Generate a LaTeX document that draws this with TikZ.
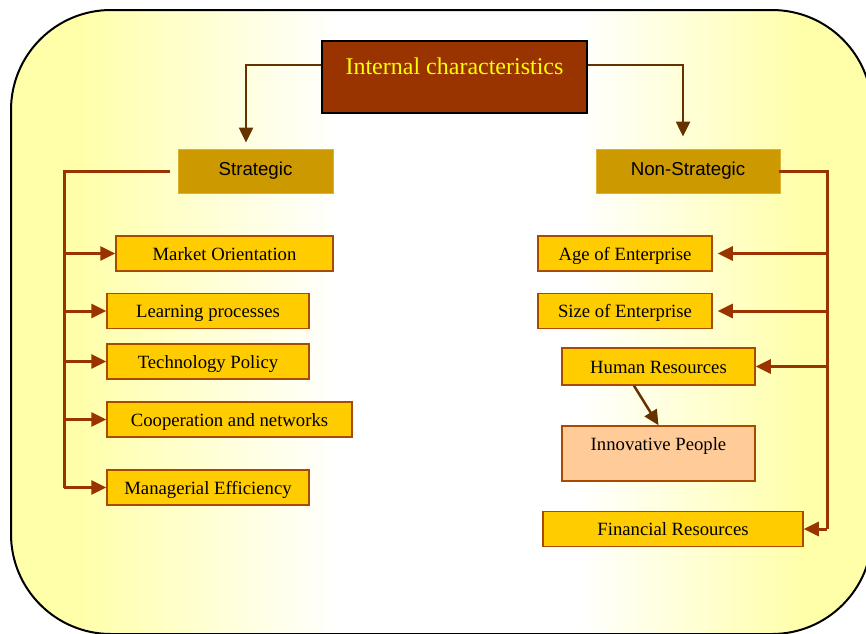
\documentclass[tikz,border=0pt]{standalone}
\usepackage{fontspec}
\setmainfont{Liberation Serif}
\newfontfamily\hdrfont{Liberation Sans}
\usepackage{tikz}
\usetikzlibrary{arrows.meta,positioning,calc}

\definecolor{rust}{HTML}{993300}
\definecolor{umber}{HTML}{663300}
\definecolor{gold}{HTML}{FFCC00}
\definecolor{ochre}{HTML}{CC9900}
\definecolor{ochreline}{HTML}{E0B030}
\definecolor{peach}{HTML}{FFCC99}
\definecolor{paleyel}{HTML}{FFFFAA}
\definecolor{txtyel}{HTML}{FFFF00}

% yellow at both sides, white in the middle
\pgfdeclarehorizontalshading{bgfade}{100bp}{color(0bp)=(paleyel); color(29bp)=(paleyel);
  color(44bp)=(white); color(58bp)=(white); color(71bp)=(paleyel); color(100bp)=(paleyel)}

\begin{document}
\begin{tikzpicture}[
  x=1pt, y=-1pt,
  font=\fontsize{18.7}{22}\selectfont,
  top/.style={draw=black, line width=2pt, fill=rust, text=txtyel, minimum width=265pt,
    inner ysep=0pt, text height=33pt, text depth=39pt, font=\fontsize{24}{28}\selectfont},
  hdr/.style={draw=ochreline, line width=1pt, fill=ochre, minimum height=44pt,
    text height=8pt, text depth=0pt, font=\hdrfont\fontsize{18.7}{22}\selectfont},
  item/.style={draw=rust!85!gold, line width=1.5pt, fill=gold, minimum height=35pt,
    inner ysep=0pt, text height=13pt, text depth=0pt},
  down/.style={-{Triangle[length=15pt,width=14pt]}, umber, line width=2.5pt},
  bus/.style={rust, line width=3pt},
  feed/.style={-{Triangle[length=15pt,width=14pt]}, rust, line width=3pt}
]
\useasboundingbox (0,0) rectangle (866,633);
\path[shading=bgfade, draw=black, line width=2pt, rounded corners=100pt] (11,10) rectangle (872,634);

\node[top] (intl) at (454.5,77) {Internal characteristics};
\node[hdr, minimum width=155pt] (strat) at (255.5,171) {Strategic};
\node[hdr, minimum width=184pt] (nonstrat) at (688,171) {Non-Strategic};

\node[item, minimum width=217pt] (market) at (224.5,253.5) {Market Orientation};
\node[item, minimum width=202pt] (learn) at (208,311) {Learning processes};
\node[item, minimum width=202pt] (tech) at (208,361.5) {Technology Policy};
\node[item, minimum width=245pt] (coop) at (229.5,419.5) {Cooperation and networks};
\node[item, minimum width=202pt] (manag) at (208,487.5) {Managerial Efficiency};

\node[item, minimum width=174pt] (age) at (625,253.5) {Age of Enterprise};
\node[item, minimum width=174pt] (size) at (625,311) {Size of Enterprise};
\node[item, minimum width=193pt, minimum height=37pt] (human) at (658.5,366.5) {Human Resources};
\node[item, minimum width=193pt, fill=peach, text height=24pt, text depth=31pt] (innov) at (658.5,453.5) {Innovative People};
\node[item, minimum width=260pt] (fin) at (673,529) {Financial Resources};

\coordinate (sbus) at (64,171);
\coordinate (nbus) at (827,171);

\draw[down] (intl.west |- 0,65) -| ([xshift=-9.5pt,yshift=6pt]strat.north);
\draw[down] (intl.east |- 0,65) -| ([xshift=-5pt,yshift=12pt]nonstrat.north);

\draw[bus] ([xshift=-8pt]strat.west) -- (sbus) -- (sbus |- manag);
\foreach \n in {market,learn,tech,coop,manag}
  \draw[feed] (sbus |- \n) -- (\n.west);

\draw[bus] ([xshift=-2pt]nonstrat.east) -- (nbus) -- (nbus |- fin);
\draw[feed] (nbus |- age) -- ([xshift=5pt]age.east);
\draw[feed] (nbus |- size) -- ([xshift=5pt]size.east);
\draw[feed] (nbus |- human) -- (human.east);
\draw[feed] (nbus |- fin) -- (fin.east);

\draw[down] ([xshift=-24.5pt]human.south) -- (innov.north);
\end{tikzpicture}
\end{document}
